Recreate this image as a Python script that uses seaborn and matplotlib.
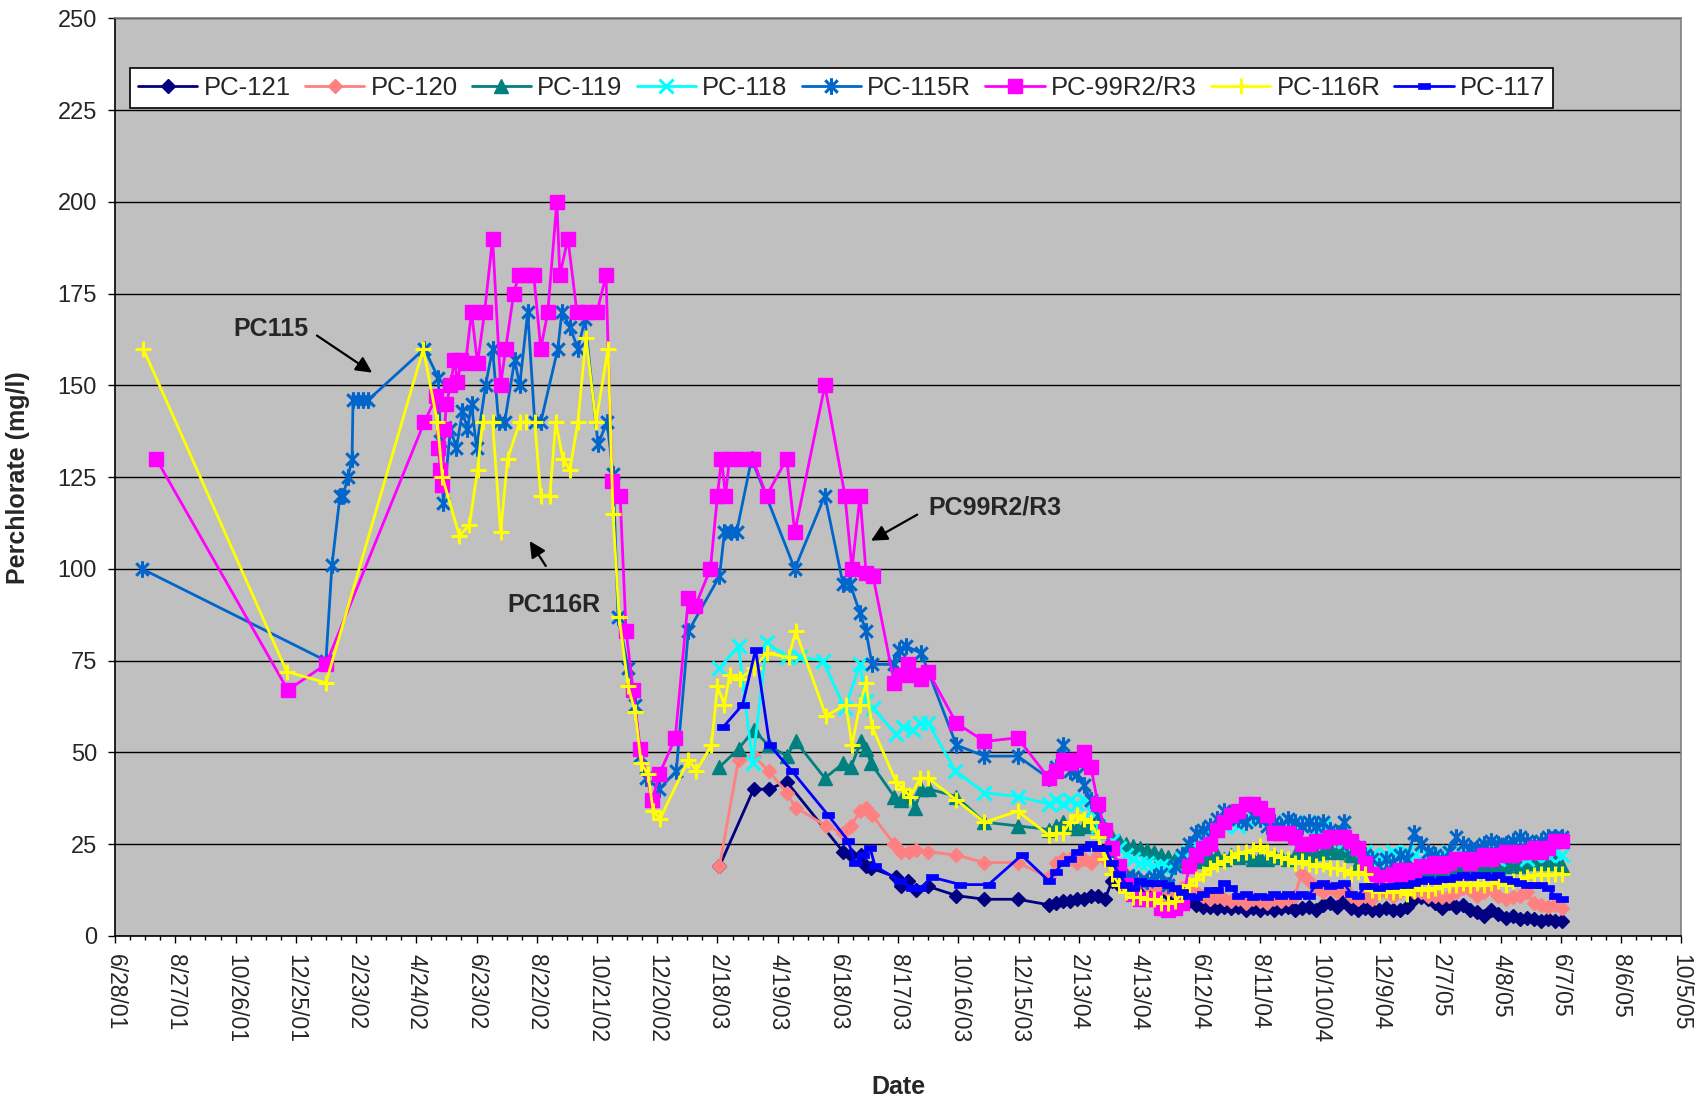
import matplotlib
matplotlib.use("Agg")
import matplotlib.dates as mdates
import matplotlib.pyplot as plt
import pandas as pd
import seaborn as sns
from matplotlib.path import Path

# ---------------------------------------------------------------- data
SERIES = ["PC-121", "PC-120", "PC-119", "PC-118", "PC-115R", "PC-99R2/R3", "PC-116R", "PC-117"]

XTICK_LABELS = [
    "6/28/01", "8/27/01", "10/26/01", "12/25/01", "2/23/02", "4/24/02", "6/23/02",
    "8/22/02", "10/21/02", "12/20/02", "2/18/03", "4/19/03", "6/18/03", "8/17/03",
    "10/16/03", "12/15/03", "2/13/04", "4/13/04", "6/12/04", "8/11/04", "10/10/04",
    "12/9/04", "2/7/05", "4/8/05", "6/7/05", "8/6/05", "10/5/05",
]
YTICKS = [0, 25, 50, 75, 100, 125, 150, 175, 200, 225, 250]

# weekly sampling dates, Jan 2004 - Jun 2005 (shared by all wells)
WEEKS = [
    "2004-01-14", "2004-01-21", "2004-01-28", "2004-02-04", "2004-02-11", "2004-02-18",
    "2004-02-25", "2004-03-03", "2004-03-10", "2004-03-17", "2004-03-24", "2004-03-31",
    "2004-04-07", "2004-04-14", "2004-04-21", "2004-04-28", "2004-05-05", "2004-05-12",
    "2004-05-19", "2004-05-26", "2004-06-02", "2004-06-09", "2004-06-16", "2004-06-23",
    "2004-06-30", "2004-07-07", "2004-07-14", "2004-07-21", "2004-07-28", "2004-08-04",
    "2004-08-11", "2004-08-18", "2004-08-25", "2004-09-01", "2004-09-08", "2004-09-15",
    "2004-09-22", "2004-09-29", "2004-10-06", "2004-10-13", "2004-10-20", "2004-10-27",
    "2004-11-03", "2004-11-10", "2004-11-17", "2004-11-24", "2004-12-01", "2004-12-08",
    "2004-12-15", "2004-12-22", "2004-12-29", "2005-01-05", "2005-01-12", "2005-01-19",
    "2005-01-26", "2005-02-02", "2005-02-09", "2005-02-16", "2005-02-23", "2005-03-02",
    "2005-03-09", "2005-03-16", "2005-03-23", "2005-03-30", "2005-04-06", "2005-04-13",
    "2005-04-20", "2005-04-27", "2005-05-04", "2005-05-11", "2005-05-18", "2005-05-25",
    "2005-06-01", "2005-06-08",
]

# PC-121
pc121_dates = ["2003-02-20", "2003-03-26", "2003-04-10", "2003-04-28", "2003-06-23", "2003-07-01",
               "2003-07-11", "2003-07-16", "2003-07-21", "2003-08-15", "2003-08-20", "2003-08-27",
               "2003-09-04", "2003-09-16", "2003-10-14", "2003-11-11", "2003-12-14"]
pc121_vals = [19, 40, 40, 42, 23, 22, 22, 19, 18.5, 16, 13.5, 15, 12.5, 13.5, 11, 10, 10]
pc121_wk = [8.5, 9, 9.5, 9.5, 10, 10, 11, 11, 10, 15, 14, 13.5, 13, 13, 12.5, 12.5, 12, 11.5, 11, 10,
            9.5, 8.5, 8, 8, 7.5, 8, 7.5, 8, 7, 7.5, 7, 7.5, 7, 7.5, 8, 7, 7.5, 8, 7, 8.5,
            9, 8, 9.5, 7.5, 7, 7.5, 7, 7, 7.5, 7, 7,
            8, 10, 10.5, 10, 9, 7.5, 9, 8, 8.5, 7, 6.5, 5.5, 7, 6, 5, 5.5, 4.5, 5, 4.5, 4,
            4.5, 4, 4]

# PC-120
pc120_dates = ["2003-02-20", "2003-03-11", "2003-03-26", "2003-04-10", "2003-04-28", "2003-05-07",
               "2003-06-06", "2003-06-23", "2003-07-01", "2003-07-10", "2003-07-16", "2003-07-22",
               "2003-08-13", "2003-08-20", "2003-08-28", "2003-09-04", "2003-09-16", "2003-10-14",
               "2003-11-11", "2003-12-14"]
pc120_vals = [19, 48, 49, 45, 39, 35, 30, 28, 30, 34, 35, 33, 25, 23, 23, 23.5, 23, 22, 20, 20]
pc120_wk = [16, 20, 21, 21, 20, 21, 20, 22, 21, 19, 18, 17, 16, 15, 14, 13.5, 13, 12.5, 12, 13,
            13, 12, 11, 10, 10.5, 10, 9.5, 10, 9, 10, 9.5, 9, 10, 9.5, 10, 11, 17, 15, 13, 12,
            13, 12, 13, 11, 10, 11, 10, 12, 12, 11, 12,
            13, 12, 12, 11, 11, 10.5, 11, 12, 13, 12.5, 11, 12, 13, 11, 10, 10.5, 11, 12, 9, 8.5,
            8, 8.5, 7.5]

# PC-119
pc119_dates = ["2003-02-20", "2003-03-11", "2003-03-26", "2003-04-10", "2003-04-28", "2003-05-07",
               "2003-06-05", "2003-06-23", "2003-07-01", "2003-07-11", "2003-07-16", "2003-07-21",
               "2003-08-13", "2003-08-20", "2003-08-27", "2003-09-03", "2003-09-09", "2003-09-17",
               "2003-10-14", "2003-11-11", "2003-12-14"]
pc119_vals = [46, 51, 56, 52, 49, 53, 43, 47, 46, 53, 51, 47, 38, 37, 38, 35, 40, 40, 38, 31, 30]
pc119_wk = [29, 30, 31, 30, 29.5, 30, 31, 30, 28.5, 27, 26, 25, 24.5, 24, 23.5, 23, 22, 21.5, 21, 20.5,
            20, 20.5, 21, 21.5, 22, 21, 22, 21.5, 22, 21, 21.5, 21, 22, 21.5, 21, 22, 23, 22, 22.5, 23,
            24, 23, 23.5, 22, 20, 19, 18, 17, 18, 17.5, 18,
            19, 18, 19, 18.5, 19, 18, 19, 18.5, 19, 18.5, 19, 18, 19, 18.5, 19, 20, 19, 20, 20, 21,
            20, 21, 19]

# PC-118
pc118_dates = ["2003-02-20", "2003-03-11", "2003-03-25", "2003-04-08", "2003-04-28", "2003-05-11",
               "2003-06-03", "2003-06-25", "2003-07-10", "2003-07-16", "2003-07-23", "2003-08-15",
               "2003-08-22", "2003-09-01", "2003-09-08", "2003-09-16", "2003-10-13", "2003-11-11",
               "2003-12-14"]
pc118_vals = [73, 79, 47, 80, 76, 76, 75, 62, 74, 64, 62, 55, 57, 56, 58, 58, 45, 39, 38]
pc118_wk = [36, 37, 36, 37, 36, 37, 34, 30, 28, 26, 24, 22, 21, 20, 20, 19, 19, 18.5, 19, 21,
            23, 25, 27, 28, 29, 30, 31, 30, 32, 33, 33, 32, 31, 30, 29, 31, 30, 31, 29, 30,
            28, 27, 26, 25, 24, 23, 22, 21, 22, 23, 22,
            23, 22, 21, 22, 21, 22, 23, 21, 22, 23, 22, 21, 22, 21, 22, 23, 22, 21, 22, 23,
            22, 23, 22]

# PC-115R
pc115_dates = ["2001-07-25", "2002-01-24", "2002-01-30", "2002-02-07", "2002-02-10", "2002-02-15",
               "2002-02-19", "2002-02-20", "2002-02-25", "2002-03-02", "2002-03-07", "2002-05-02",
               "2002-05-16", "2002-05-18", "2002-05-21", "2002-05-28", "2002-06-03", "2002-06-09",
               "2002-06-14", "2002-06-18", "2002-06-23", "2002-07-02", "2002-07-09", "2002-07-15",
               "2002-07-21", "2002-07-31", "2002-08-05", "2002-08-13", "2002-08-20", "2002-08-26",
               "2002-09-12", "2002-09-16", "2002-09-24", "2002-10-02", "2002-10-09", "2002-10-22",
               "2002-10-31", "2002-11-06", "2002-11-11", "2002-11-21", "2002-11-28", "2002-12-03",
               "2002-12-09", "2002-12-22", "2003-01-08", "2003-01-20", "2003-02-20", "2003-02-25",
               "2003-03-03", "2003-03-09", "2003-03-24", "2003-05-06", "2003-06-05", "2003-06-23",
               "2003-06-30", "2003-07-10", "2003-07-16", "2003-07-22", "2003-08-13", "2003-08-18",
               "2003-08-25", "2003-09-09", "2003-10-14", "2003-11-11", "2003-12-14"]
pc115_vals = [100, 75, 101, 120, 120, 125, 130, 146, 146, 146, 146, 160,
              152, 135, 118, 138, 133, 143, 138, 145, 133, 150, 160, 140,
              140, 157, 150, 170, 140, 140, 160, 170, 166, 160, 168, 134,
              140, 126, 87, 73, 63, 49, 43, 40, 45, 83, 98, 110,
              110, 110, 130, 100, 120, 96, 96, 88, 83, 74, 74, 78,
              79, 77, 52, 49, 49]
pc115_wk = [43, 46, 52, 45, 44, 41, 37, 33, 29, 22, 18, 16, 16, 15, 15, 16, 17, 14, 19, 22,
            25, 28, 29, 30, 32, 34, 33, 32, 31, 33, 32, 30, 31, 30, 32, 31, 30, 31, 30, 31,
            29, 28, 31, 25, 24, 22, 21, 19, 21, 20, 22,
            21, 28, 25, 23, 22, 21, 23, 27, 25, 24, 24, 25, 26, 25, 25, 26, 27, 26, 25, 26,
            27, 27, 27]

# PC-99R2/R3
pc99_dates = ["2001-08-08", "2001-12-17", "2002-01-24", "2002-05-02", "2002-05-14", "2002-05-16",
              "2002-05-18", "2002-05-20", "2002-05-22", "2002-05-24", "2002-05-28", "2002-06-01",
              "2002-06-04", "2002-06-08", "2002-06-12", "2002-06-18", "2002-06-24", "2002-07-01",
              "2002-07-09", "2002-07-17", "2002-07-22", "2002-07-30", "2002-08-04", "2002-08-11",
              "2002-08-19", "2002-08-26", "2002-09-02", "2002-09-11", "2002-09-14", "2002-09-22",
              "2002-10-01", "2002-10-11", "2002-10-21", "2002-10-30", "2002-11-05", "2002-11-13",
              "2002-11-19", "2002-11-26", "2002-12-03", "2002-12-15", "2002-12-22", "2003-01-07",
              "2003-01-20", "2003-01-27", "2003-02-11", "2003-02-18", "2003-02-22", "2003-02-26",
              "2003-03-02", "2003-03-13", "2003-03-25", "2003-04-08", "2003-04-28", "2003-05-06",
              "2003-06-05", "2003-06-25", "2003-07-02", "2003-07-10", "2003-07-16", "2003-07-23",
              "2003-08-13", "2003-08-20", "2003-08-27", "2003-09-03", "2003-09-09", "2003-09-16",
              "2003-10-14", "2003-11-11", "2003-12-14"]
pc99_vals = [130, 67, 74, 140, 147, 133,
             127, 123, 138, 145, 150, 157,
             151, 157, 156, 170, 156, 170,
             190, 150, 160, 175, 180, 180,
             180, 160, 170, 200, 180, 190,
             170, 170, 170, 180, 124, 120,
             83, 67, 51, 37, 44, 54,
             92, 90, 100, 120, 130, 120,
             130, 130, 130, 120, 130, 110,
             150, 120, 100, 120, 99, 98,
             69, 71, 74, 71, 70, 72,
             58, 53, 54]
pc99_wk = [43, 45, 48, 47, 48, 50, 46, 36, 29, 24, 19, 14, 11.5, 10, 10, 10, 7.5, 7, 7.5, 9,
           19, 22, 24, 25, 29, 31, 33, 34, 36, 36, 35, 33, 28, 28, 28, 27, 25, 25, 26, 26,
           27, 27, 27, 26, 24, 20, 17, 15, 16, 17, 18,
           17, 18, 19, 19, 20, 19, 20, 21, 21, 20, 21, 22, 21, 22, 23, 22, 23, 23, 24, 23,
           24, 26, 26]

# PC-116R
pc116_dates = ["2001-07-26", "2001-12-16", "2002-01-24", "2002-05-01", "2002-05-15", "2002-05-20",
               "2002-06-06", "2002-06-16", "2002-06-24", "2002-06-29", "2002-07-09", "2002-07-17",
               "2002-07-24", "2002-08-05", "2002-08-11", "2002-08-20", "2002-08-26", "2002-09-04",
               "2002-09-10", "2002-09-17", "2002-09-24", "2002-10-02", "2002-10-10", "2002-10-20",
               "2002-11-01", "2002-11-06", "2002-11-12", "2002-11-21", "2002-11-28", "2002-12-04",
               "2002-12-11", "2002-12-16", "2002-12-23", "2003-01-20", "2003-01-28", "2003-02-12",
               "2003-02-18", "2003-02-25", "2003-03-02", "2003-03-12", "2003-03-26", "2003-04-08",
               "2003-04-30", "2003-05-07", "2003-06-06", "2003-06-26", "2003-07-02", "2003-07-10",
               "2003-07-16", "2003-07-22", "2003-08-15", "2003-08-22", "2003-08-29", "2003-09-08",
               "2003-09-16", "2003-10-14", "2003-11-11", "2003-12-14"]
pc116_vals = [160, 72, 69, 160, 140, 125,
              109, 112, 127, 140, 140, 110,
              130, 140, 140, 140, 120, 120,
              140, 130, 127, 140, 163, 140,
              160, 115, 87, 68, 61, 47,
              44, 34, 32, 48, 45, 52,
              68, 63, 71, 70, 73, 77,
              76, 83, 60, 63, 52, 63,
              69, 57, 42, 40, 38, 43,
              43, 37, 31, 34]
pc116_wk = [27.5, 28, 28, 31, 33, 32, 31, 27, 21, 17, 14, 12, 10.5, 10.5, 10, 10, 9, 9, 9.5, 11.5,
            14, 15.5, 17, 18.5, 19.5, 20.5, 21.5, 22.5, 23, 23.5, 24.5, 23, 22, 21.5, 21, 20,
            20.5, 19.5, 19, 19.5, 18.5, 18.5, 18, 17, 17.5, 17, 12.5, 12, 12.5, 12, 12.5,
            11.5, 12.5, 13, 12.5, 13, 13.5, 14, 14, 14.5, 14, 14.5, 14, 14.5, 15, 14, 15, 15.5,
            16, 16.5, 17, 16.5, 17, 17]

# PC-117
pc117_dates = ["2003-02-24", "2003-03-15", "2003-03-28", "2003-04-11", "2003-05-03", "2003-06-08",
               "2003-06-28", "2003-07-05", "2003-07-13", "2003-07-20", "2003-07-25", "2003-08-19",
               "2003-08-31", "2003-09-08", "2003-09-20", "2003-10-18", "2003-11-15", "2003-12-18"]
pc117_vals = [57, 63, 78, 52, 45, 33, 26, 20, 22, 24, 19, 15, 13, 13, 16, 14, 14, 22]
pc117_wk = [15, 17.5, 20, 21, 23, 24, 25, 24, 24, 20, 17, 14, 13, 15, 14.5, 14.5, 14.5, 14, 13, 12,
            11, 10.5, 11.5, 12.5, 12.5, 14.5, 13, 11, 11.5, 10.5, 11, 10.5, 11.5, 11, 11.5, 11,
            11.5, 11, 14, 14.5, 13.5, 14, 14.5, 11.5, 11, 13.5, 13.5, 13, 13.5, 13.5, 14,
            14, 14.5, 15, 15.5, 15, 15.5, 15.5, 16, 16.5, 16, 16.5, 16.5, 16, 16.5, 15.5, 15,
            14.5, 14, 14, 14, 13, 11, 10]

RAW = {
    "PC-121": (pc121_dates, pc121_vals, pc121_wk),
    "PC-120": (pc120_dates, pc120_vals, pc120_wk),
    "PC-119": (pc119_dates, pc119_vals, pc119_wk),
    "PC-118": (pc118_dates, pc118_vals, pc118_wk),
    "PC-115R": (pc115_dates, pc115_vals, pc115_wk),
    "PC-99R2/R3": (pc99_dates, pc99_vals, pc99_wk),
    "PC-116R": (pc116_dates, pc116_vals, pc116_wk),
    "PC-117": (pc117_dates, pc117_vals, pc117_wk),
}

# ---------------------------------------------------------------- styles
ASTERISK = Path([(0, -1), (0, 1), (-0.75, -0.75), (0.75, 0.75), (-0.75, 0.75), (0.75, -0.75)],
                [Path.MOVETO, Path.LINETO] * 3)
DASH = Path([(-1, -0.45), (1, -0.45), (1, 0.45), (-1, 0.45), (-1, -0.45)],
            [Path.MOVETO, Path.LINETO, Path.LINETO, Path.LINETO, Path.CLOSEPOLY])

STYLE = {
    "PC-121": dict(color="#000080", marker="D", ms=7, mew=1, filled=True),
    "PC-120": dict(color="#FF8080", marker="D", ms=7, mew=1, filled=True),
    "PC-119": dict(color="#008080", marker="^", ms=10.5, mew=1, filled=True),
    "PC-118": dict(color="#00FFFF", marker="x", ms=9.5, mew=2.2, filled=False),
    "PC-115R": dict(color="#0066CC", marker=ASTERISK, ms=12, mew=2.2, filled=False),
    "PC-99R2/R3": dict(color="#FF00FF", marker="s", ms=10.5, mew=1, filled=True),
    "PC-116R": dict(color="#FFFF00", marker="+", ms=12, mew=2.2, filled=False),
    "PC-117": dict(color="#0000FF", marker=DASH, ms=8.5, mew=0.5, filled=True),
}


def build_frame(name: str) -> pd.DataFrame:
    dates, vals, wk = RAW[name]
    assert len(dates) == len(vals), name
    assert len(wk) == len(WEEKS), (name, len(wk))
    return pd.DataFrame({
        "date": pd.to_datetime(list(dates) + WEEKS),
        "value": list(vals) + list(wk),
    })


def main() -> None:
    sns.set_style("ticks")
    plt.rcParams["font.family"] = ["Liberation Sans", "DejaVu Sans"]

    fig = plt.figure(figsize=(17.03, 11.04), dpi=100)
    ax = fig.add_axes([0.0676, 0.1522, 0.9196, 0.8311])
    ax.set_facecolor("#C0C0C0")

    for z, name in enumerate(SERIES):
        st = STYLE[name]
        sns.lineplot(
            data=build_frame(name), x="date", y="value", ax=ax,
            estimator=None, sort=False, legend=False, label=name,
            color=st["color"], linewidth=2.0, marker=st["marker"], markersize=st["ms"],
            markeredgewidth=st["mew"], markeredgecolor=st["color"],
            markerfacecolor=st["color"] if st["filled"] else "none", zorder=3 + z,
        )

    # axes and ticks
    tick_dates = pd.to_datetime(XTICK_LABELS, format="%m/%d/%y")
    ax.set_xlim(mdates.date2num(tick_dates[0]), mdates.date2num(tick_dates[-1]))
    ax.set_xticks(mdates.date2num(tick_dates))
    ax.set_xticklabels(XTICK_LABELS, rotation=-90, fontsize=16.5, va="top", ha="center")
    minor = pd.date_range(tick_dates[0], tick_dates[-1], freq="15D")
    ax.set_xticks(mdates.date2num(minor), minor=True)
    ax.set_ylim(0, 250)
    ax.set_yticks(YTICKS)
    ax.set_yticklabels([str(v) for v in YTICKS], fontsize=17)
    ax.tick_params(axis="both", which="major", direction="out", length=5, width=1, pad=8, color="black")
    ax.tick_params(axis="x", which="minor", direction="out", length=3, width=1, color="black")

    ax.yaxis.grid(True, color="black", linewidth=1)
    ax.xaxis.grid(False)
    ax.set_axisbelow(True)
    for side in ("left", "bottom"):
        ax.spines[side].set_color("black")
        ax.spines[side].set_linewidth(1.2)
    for side in ("top", "right"):
        ax.spines[side].set_visible(True)
        ax.spines[side].set_color("#808080")
        ax.spines[side].set_linewidth(1.2)

    ax.set_xlabel("Date", fontsize=18, fontweight="bold")
    ax.set_ylabel("Perchlorate (mg/l)", fontsize=18, fontweight="bold")
    ax.xaxis.set_label_coords(0.5, -0.1515)
    ax.yaxis.set_label_coords(-0.0545, 0.5)

    # callouts
    def d(s):
        return mdates.date2num(pd.Timestamp(s))

    arrow = dict(arrowstyle="-|>", color="black", lw=1.6, mutation_scale=24, shrinkA=0, shrinkB=0)
    ax.annotate("", xy=(d("2002-03-11"), 153.5), xytext=(d("2002-01-15"), 163.6), arrowprops=arrow, zorder=20)
    ax.text(d("2001-11-30"), 165.4, "PC115", ha="center", va="center", fontsize=18, fontweight="bold", zorder=20)
    ax.annotate("", xy=(d("2002-08-15"), 107.6), xytext=(d("2002-08-31"), 100.8), arrowprops=arrow, zorder=20)
    ax.text(d("2002-09-08"), 90.2, "PC116R", ha="center", va="center", fontsize=18, fontweight="bold", zorder=20)
    ax.annotate("", xy=(d("2003-07-21"), 107.7), xytext=(d("2003-09-05"), 114.8), arrowprops=arrow, zorder=20)
    ax.text(d("2003-11-21"), 116.8, "PC99R2/R3", ha="center", va="center", fontsize=18, fontweight="bold", zorder=20)

    handles, labels = ax.get_legend_handles_labels()
    leg = ax.legend(
        handles, labels, loc="upper left", bbox_to_anchor=(0.0098, 0.9456), borderaxespad=0,
        ncol=8, fontsize=18.5, frameon=True, fancybox=False, framealpha=1, edgecolor="black",
        handlelength=2.3, handletextpad=0.25, columnspacing=0.55, borderpad=0.3,
    )
    leg.get_frame().set_linewidth(1.2)
    leg.set_zorder(30)

    fig.savefig("out.png", dpi=100, facecolor="white")
    plt.close(fig)


if __name__ == "__main__":
    main()
